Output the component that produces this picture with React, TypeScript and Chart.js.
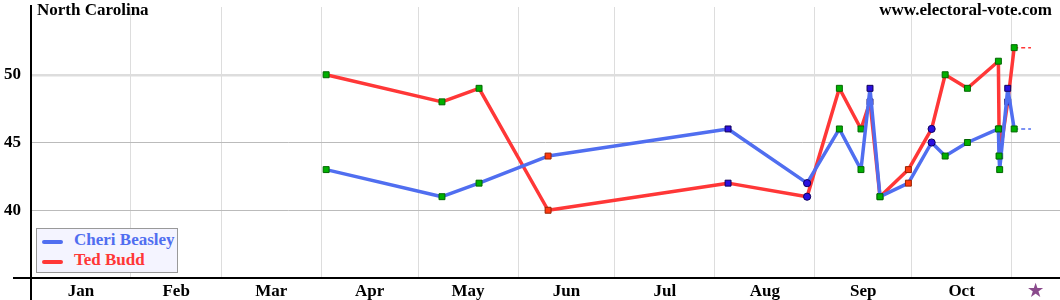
import React, { useEffect, useRef } from 'react';
import { Chart, registerables } from 'chart.js';

Chart.register(...registerables);

// ---- Data (day of year 2022, Jan 1 = 0) ----
const MONTH_BOUNDS = [31, 59, 90, 120, 151, 181, 212, 243, 273, 304];
const MONTH_CENTERS = [15.5, 45, 74.5, 105, 135.5, 166, 196.5, 227.5, 258, 288.5, 311.5];
const MONTH_LABELS = ['Jan', 'Feb', 'Mar', 'Apr', 'May', 'Jun', 'Jul', 'Aug', 'Sep', 'Oct', '★'];
const X_MAX = 319;
const ELECTION_END = 310;

const POLL_DAYS = [91.5, 127.4, 138.9, 160.3, 216.1, 240.6, 250.6, 257.3, 260.1, 263.2, 272.0, 279.2, 283.4, 290.3, 299.9, 300.1, 300.3, 302.8, 304.8];
const BEASLEY = [43, 41, 42, 44, 46, 42, 46, 43, 49, 41, 42, 45, 44, 45, 46, 44, 43, 49, 46];
const BUDD = [50, 48, 49, 40, 42, 41, 49, 46, 48, 41, 43, 46, 50, 49, 51, 46, 44, 48, 52];
const POLL_KIND = ['g', 'g', 'g', 'r', 'b', 'b', 'g', 'g', 'b', 'g', 'r', 'b', 'g', 'g', 'g', 'g', 'g', 'b', 'g'];
const POLL_SHAPE = ['rect', 'rect', 'rect', 'rect', 'rect', 'circle', 'rect', 'rect', 'rect', 'rect', 'rect', 'circle', 'rect', 'rect', 'rect', 'rect', 'rect', 'rect', 'rect'];

const Y_TICKS_SHOWN = [40, 45, 50];

const BLUE = 'rgb(80,110,240)';
const RED = 'rgb(255,55,55)';
const FONT_FAMILY = '"Liberation Serif", "Times New Roman", serif';

const FILL: Record<string, string> = { g: '#00b000', r: '#ff3a10', b: '#2a10e0' };
const EDGE: Record<string, string> = { g: '#006600', r: '#992200', b: '#10005a' };

function pointStyleProps() {
  return {
    pointStyle: POLL_SHAPE.slice(),
    pointRadius: POLL_SHAPE.map((s) => (s === 'rect' ? 4.2 : 3.6)),
    pointHoverRadius: POLL_SHAPE.map((s) => (s === 'rect' ? 4.2 : 3.6)),
    pointBackgroundColor: POLL_KIND.map((k) => FILL[k]),
    pointBorderColor: POLL_KIND.map((k) => EDGE[k]),
    pointBorderWidth: 1,
  };
}

const axisLinesPlugin = {
  id: 'axisLines',
  afterDraw(chart: any) {
    const { ctx, chartArea } = chart;
    ctx.save();
    ctx.strokeStyle = '#000';
    ctx.lineWidth = 2;
    ctx.beginPath();
    ctx.moveTo(chartArea.left, 5);
    ctx.lineTo(chartArea.left, 300);
    ctx.moveTo(13, chartArea.bottom);
    ctx.lineTo(1060, chartArea.bottom);
    ctx.stroke();
    ctx.restore();
  },
};

function zeroPad(s: any) {
  s.paddingTop = 0;
  s.paddingBottom = 0;
  s.paddingLeft = 0;
  s.paddingRight = 0;
}

export default function App() {
  const ref = useRef<HTMLCanvasElement>(null);

  useEffect(() => {
    const canvas = ref.current;
    if (!canvas) return;
    const last = POLL_DAYS.length - 1;
    // Chart.js draws dataset 0 last (on top): Beasley first so blue sits above red.
    const chart = new Chart(canvas, {
      type: 'line',
      data: {
        datasets: [
          {
            label: 'Cheri Beasley',
            data: POLL_DAYS.map((d, i) => ({ x: d, y: BEASLEY[i] })),
            borderColor: BLUE,
            borderWidth: 3.5,
            borderJoinStyle: 'round',
            tension: 0,
            ...pointStyleProps(),
          },
          {
            label: 'Beasley ext',
            data: [
              { x: POLL_DAYS[last], y: BEASLEY[last] },
              { x: ELECTION_END, y: BEASLEY[last] },
            ],
            borderColor: BLUE,
            borderWidth: 1.5,
            borderDash: [4, 3],
            pointRadius: 0,
          },
          {
            label: 'Ted Budd',
            data: POLL_DAYS.map((d, i) => ({ x: d, y: BUDD[i] })),
            borderColor: RED,
            borderWidth: 3.5,
            borderJoinStyle: 'round',
            tension: 0,
            ...pointStyleProps(),
          },
          {
            label: 'Budd ext',
            data: [
              { x: POLL_DAYS[last], y: BUDD[last] },
              { x: ELECTION_END, y: BUDD[last] },
            ],
            borderColor: RED,
            borderWidth: 1.5,
            borderDash: [4, 3],
            pointRadius: 0,
          },
        ] as any,
      },
      options: {
        animation: false,
        responsive: false,
        maintainAspectRatio: false,
        devicePixelRatio: 1,
        layout: { autoPadding: false, padding: { top: 7, left: 0, right: 0, bottom: 0 } },
        plugins: {
          legend: { display: false },
          tooltip: { enabled: false },
          title: { display: false },
        },
        scales: {
          x: {
            type: 'linear',
            min: 0,
            max: X_MAX,
            afterBuildTicks: (s: any) => {
              s.ticks = [...MONTH_BOUNDS, ...MONTH_CENTERS]
                .sort((a, b) => a - b)
                .map((v) => ({ value: v }));
            },
            afterFit: (s: any) => {
              s.height = 22;
              zeroPad(s);
            },
            grid: {
              color: (c: any) => (c.tick && MONTH_BOUNDS.includes(c.tick.value) ? '#dddddd' : 'rgba(0,0,0,0)'),
              lineWidth: 1,
              drawTicks: false,
            },
            border: { display: false },
            ticks: {
              autoSkip: false,
              maxRotation: 0,
              minRotation: 0,
              padding: 3,
              font: { family: FONT_FAMILY, size: 17, weight: 'bold' },
              color: (c: any) => (c.tick && c.tick.value === MONTH_CENTERS[MONTH_CENTERS.length - 1] ? '#8a4a8c' : '#000'),
              callback: (v: any) => {
                const i = MONTH_CENTERS.indexOf(Number(v));
                return i >= 0 ? MONTH_LABELS[i] : '';
              },
            },
          },
          y: {
            type: 'linear',
            min: 35,
            max: 55,
            afterFit: (s: any) => {
              s.width = 31;
              zeroPad(s);
            },
            grid: {
              color: (c: any) => {
                const v = c.tick ? c.tick.value : null;
                if (v === 50) return '#dddddd';
                if (v === 40 || v === 45) return '#bbbbbb';
                return 'rgba(0,0,0,0)';
              },
              lineWidth: (c: any) => (c.tick && c.tick.value === 50 ? 2.5 : 1),
              drawTicks: false,
            },
            border: { display: false },
            ticks: {
              stepSize: 5,
              padding: 10,
              font: { family: FONT_FAMILY, size: 17, weight: 'bold' },
              color: '#000',
              callback: (v: any) => (Y_TICKS_SHOWN.includes(Number(v)) ? String(v) : ''),
            },
          },
        },
      } as any,
      plugins: [axisLinesPlugin],
    });
    return () => chart.destroy();
  }, []);

  const textBase: React.CSSProperties = {
    position: 'absolute',
    fontFamily: FONT_FAMILY,
    fontWeight: 'bold',
    fontSize: 17,
    lineHeight: '17px',
    whiteSpace: 'nowrap',
  };

  return (
    <div style={{ position: 'absolute', left: 0, top: 0, width: 1060, height: 300, background: '#fff', overflow: 'hidden' }}>
      <canvas ref={ref} width={1060} height={300} style={{ position: 'absolute', left: 0, top: 0, width: 1060, height: 300 }} />
      <div style={{ ...textBase, left: 37, top: 1, color: '#000' }}>North Carolina</div>
      <div style={{ ...textBase, right: 8, top: 1, color: '#000' }}>www.electoral-vote.com</div>
      <div
        style={{
          position: 'absolute',
          left: 36,
          top: 228,
          width: 140,
          height: 43,
          background: '#f4f4ff',
          border: '1px solid #999',
        }}
      >
        <div style={{ position: 'absolute', left: 5, top: 10.5, width: 21, height: 4, borderRadius: 2, background: BLUE }} />
        <div style={{ ...textBase, left: 37, top: 2, color: BLUE }}>Cheri Beasley</div>
        <div style={{ position: 'absolute', left: 5, top: 30.5, width: 21, height: 4, borderRadius: 2, background: RED }} />
        <div style={{ ...textBase, left: 37, top: 22, color: RED }}>Ted Budd</div>
      </div>
    </div>
  );
}
